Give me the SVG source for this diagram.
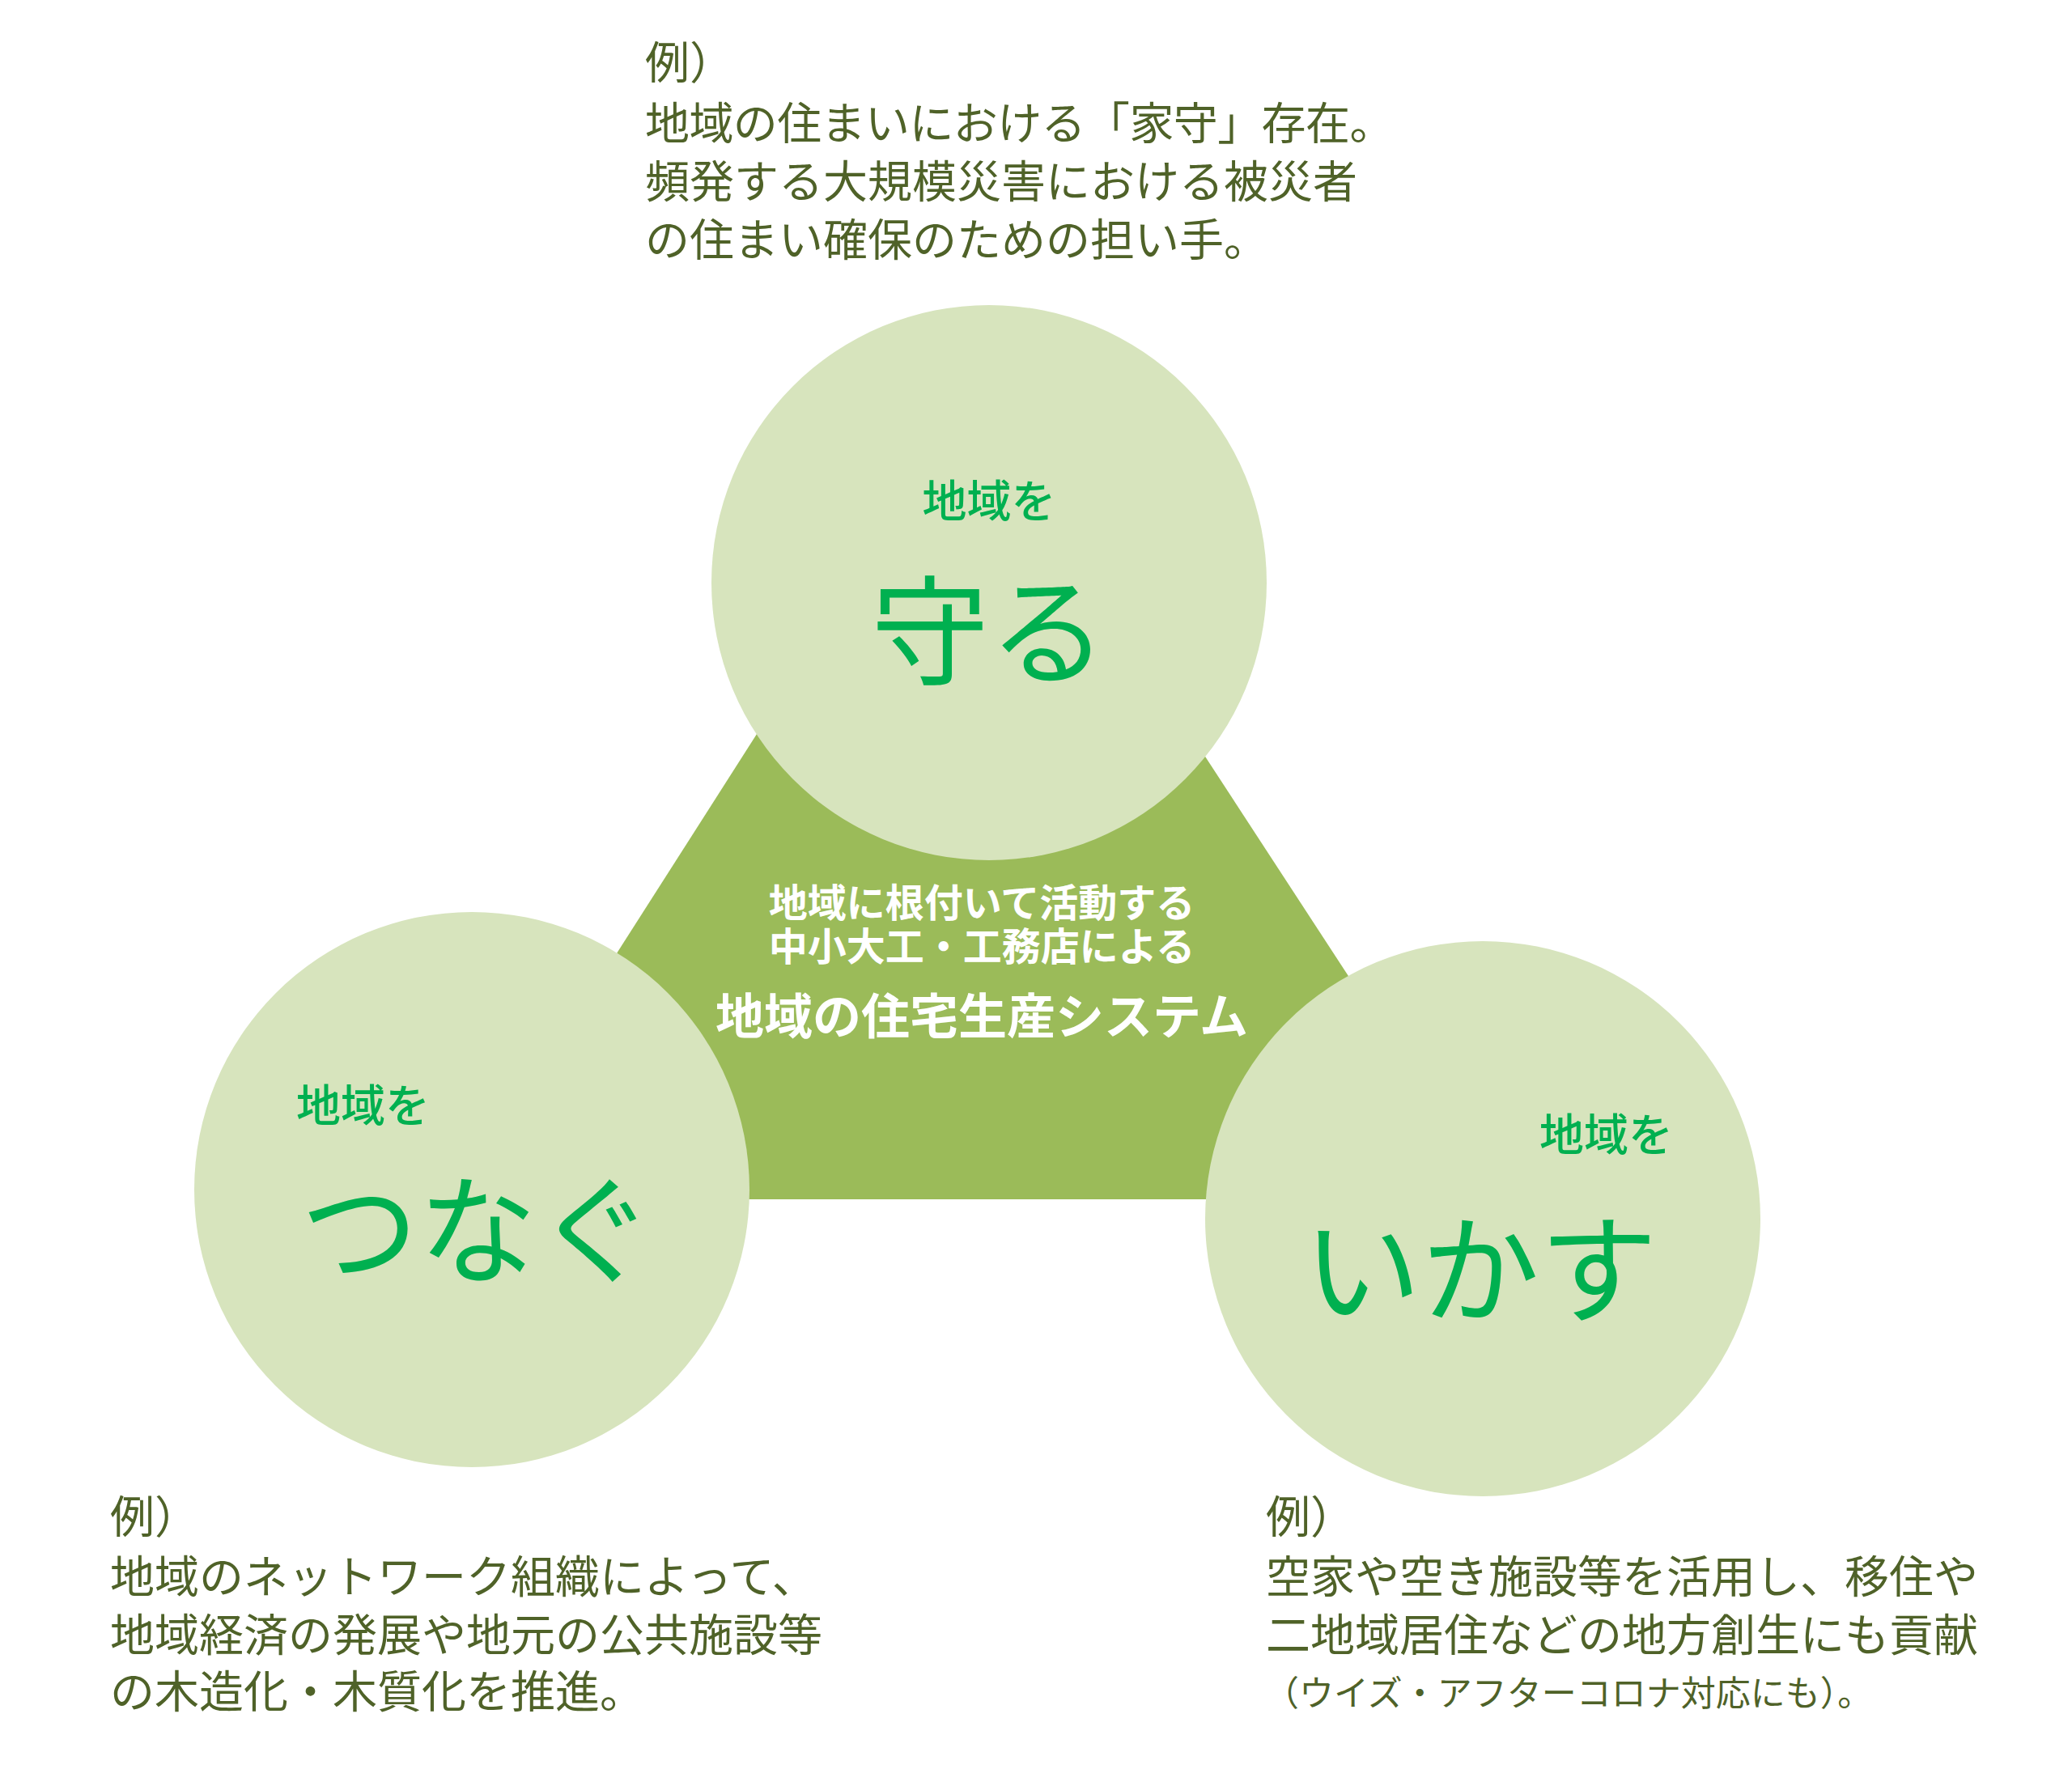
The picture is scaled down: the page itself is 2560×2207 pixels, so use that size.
<svg xmlns="http://www.w3.org/2000/svg" width="2560" height="2207" viewBox="0 0 2560 2207">
<style>
.desc{font-family:"Noto Sans CJK JP","Noto Sans CJK SC",sans-serif;font-size:55px;fill:#4f6228;}
.small{font-size:43px;}
.sub{font-family:"Noto Sans CJK JP",sans-serif;font-size:55px;font-weight:500;fill:#00b050;dominant-baseline:central;}
.big{font-family:"Noto Sans CJK JP",sans-serif;font-size:146px;font-weight:400;fill:#00b050;text-anchor:middle;dominant-baseline:central;}
.ctr{font-family:"Noto Sans CJK JP",sans-serif;font-weight:700;fill:#ffffff;text-anchor:middle;dominant-baseline:central;}
.circ{fill:#d7e4bd;}
</style>
<rect width="2560" height="2207" fill="#ffffff"/>
<g id="node-center">
<polygon points="1200,492 568,1482 1846,1482" fill="#9bbb59"/>
</g>
<g id="connectors"></g>
<g id="node-top">
<circle class="circ" cx="1222" cy="720" r="343"/>
<text class="sub" x="1222" y="615" text-anchor="middle">地域を</text>
<text class="big" x="1222" y="770">守る</text>
</g>
<g id="node-left">
<circle class="circ" cx="583" cy="1470" r="343"/>
<text class="sub" x="366" y="1362">地域を</text>
<text class="big" x="590" y="1510">つなぐ</text>
</g>
<g id="node-right">
<circle class="circ" cx="1832" cy="1506" r="343"/>
<text class="sub" x="1902" y="1398">地域を</text>
<text class="big" x="1829" y="1559" font-size="152">いかす</text>
</g>
<g id="center-text">
<text class="ctr" x="1213" y="1112" font-size="48">地域に根付いて活動する</text>
<text class="ctr" x="1213" y="1166" font-size="48">中小大工・工務店による</text>
<text class="ctr" x="1213" y="1251" font-size="60">地域の住宅生産システム</text>
</g>
<g id="desc-top" class="desc">
<text x="797" y="97">例）</text>
<text x="797" y="172" letter-spacing="-0.6">地域の住まいにおける「家守」存在。</text>
<text x="797" y="244">頻発する大規模災害における被災者</text>
<text x="797" y="316">の住まい確保のための担い手。</text>
</g>
<g id="desc-left" class="desc">
<text x="136" y="1894">例）</text>
<text x="136" y="1968">地域のネットワーク組織によって、</text>
<text x="136" y="2040">地域経済の発展や地元の公共施設等</text>
<text x="136" y="2110">の木造化・木質化を推進。</text>
</g>
<g id="desc-right" class="desc">
<text x="1564" y="1894">例）</text>
<text x="1564" y="1968">空家や空き施設等を活用し、移住や</text>
<text x="1564" y="2040">二地域居住などの地方創生にも貢献</text>
<text class="small" x="1562" y="2108">（ウイズ・アフターコロナ対応にも）。</text>
</g>
</svg>
